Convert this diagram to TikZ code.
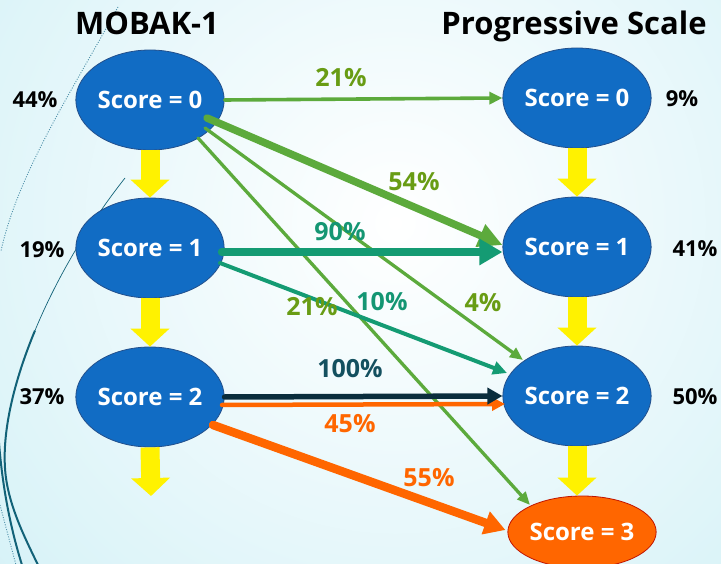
\documentclass[tikz,border=0pt]{standalone}
\usepackage{fontspec}
\setmainfont{Open Sans}
\usetikzlibrary{arrows.meta,shapes.geometric,calc}

\definecolor{bgcyan}{RGB}{208,240,246}
\definecolor{scoreblue}{RGB}{17,108,196}
\definecolor{scoreedge}{RGB}{35,80,140}
\definecolor{lgreen}{RGB}{92,170,60}
\definecolor{tgreen}{RGB}{104,156,20}
\definecolor{teal1}{RGB}{20,155,115}
\definecolor{ttext}{RGB}{20,150,115}
\definecolor{navy}{RGB}{10,45,60}
\definecolor{navytext}{RGB}{20,80,95}
\definecolor{orng}{RGB}{255,102,0}
\definecolor{orngedge}{RGB}{192,20,0}
\definecolor{decor}{RGB}{18,98,120}
\definecolor{decordot}{RGB}{80,145,170}

\begin{document}
\begin{tikzpicture}[x=1pt,y=1pt,
  scorebox/.style={ellipse, draw=scoreedge, line width=0.8pt, fill=scoreblue,
    text=white, minimum width=148pt, minimum height=100pt, inner sep=0pt,
    font=\fontsize{24}{28}\selectfont\bfseries},
  topscore/.style={scorebox, fill=orng, draw=orngedge, minimum height=72pt},
  pct/.style={anchor=base, font=\fontsize{22}{26}\selectfont\bfseries},
  lbl/.style={anchor=base, font=\fontsize{25}{30}\selectfont\bfseries},
  heading/.style={anchor=base, font=\fontsize{31}{36}\selectfont\bfseries},
  yarrow/.style={draw=yellow, line width=19pt, -{Triangle[length=18pt,width=38pt]}},
  conn/.style={line cap=round},
]
\useasboundingbox (0,0) rectangle (721,563);

% background
\begin{scope}
  \clip (0,0) rectangle (721,563);
  \fill[bgcyan] (0,0) rectangle (721,563);
  \shade[inner color=white, outer color=bgcyan] (395,340) circle (620);
\end{scope}

% decorative swooshes on the left
\begin{scope}
  \clip (0,0) rectangle (721,563);
  \draw[decor, line width=0.7pt] (125,385) .. controls (87.5,337.5) and (56.25,283.75) .. (35,232.5);
  \draw[decor, line width=2pt] (35,232.5) .. controls (13.75,181.25) and (2.5,132.5) .. (5,95)
        .. controls (7,60) and (25,25) .. (38,-2);
  \draw[decor, line width=2pt] (-1,120) .. controls (3,70) and (12,30) .. (22,-2);
  \draw[decordot, line width=0.9pt, dash pattern=on 1pt off 1.5pt] (0,58) -- (16,-2);
  \draw[decordot, line width=0.9pt, dash pattern=on 1pt off 1.5pt]
        (118,556) .. controls (72,472) and (18,390) .. (1,312);
\end{scope}

% score nodes
\node[scorebox] (l0) at (150,463) {Score = 0};
\node[scorebox] (l1) at (150,315) {Score = 1};
\node[scorebox] (l2) at (150,166) {Score = 2};
\node[scorebox] (r0) at (577,465) {Score = 0};
\node[scorebox] (r1) at (577,316) {Score = 1};
\node[scorebox] (r2) at (577,167) {Score = 2};
\node[topscore] (r3) at (582,31) {Score = 3};
\coordinate (lend) at (151,67);
\coordinate (rend) at (r2.south |- r3.north);

% vertical progression arrows
\draw[yarrow] (l0.south) -- (l1.north);
\draw[yarrow] (l1.south) -- (l2.north);
\draw[yarrow] (l2.south) -- (lend);
\draw[yarrow] (r0.south) -- (r1.north);
\draw[yarrow] (r1.south) -- (r2.north);
\draw[yarrow] (r2.south) -- (rend);

% transitions from score 0
\draw[conn, lgreen, line width=3.6pt, -{Triangle[length=13pt,width=12pt]}] (l0.east) -- (r0.west);
\draw[conn, lgreen, line width=3.3pt, -{Triangle[length=13pt,width=11pt]}] ($(l0)+(48,-38)$) -- ($(r3)+(-52,27)$);
\draw[conn, lgreen, line width=3.3pt, -{Triangle[length=13pt,width=11pt]}] ($(l0)+(55,-28)$) -- ($(r2)+(-54,36)$);
\draw[conn, lgreen, line width=7.5pt, -{Triangle[length=24pt,width=23pt]}] ($(l0)+(57,-18)$) -- ($(r1.west)+(0,2)$);

% transitions from score 1
\draw[conn, teal1, line width=4pt, -{Triangle[length=14pt,width=13pt]}] ($(l1)+(70,-15)$) -- ($(r2)+(-70,23)$);
\draw[conn, teal1, line width=7.5pt, -{Triangle[length=23pt,width=25pt]}] ($(l1.east)+(-3,-4)$) -- ($(r1.west)+(0,-5)$);

% transitions from score 2
\draw[conn, orng, line width=8.5pt, -{Triangle[length=21pt,width=23pt]}] ($(l2)+(63,-28)$) -- ($(r3.west)+(-2,2)$);
\draw[conn, orng, line width=4.5pt, -{Triangle[length=13pt,width=13pt]}] ($(l2)+(72,-8)$) -- ($(r2)+(-72,-8)$);
\draw[conn, navy, line width=5.5pt, -{Triangle[length=15pt,width=16pt]}] (l2.east) -- (r2.west);

% headings
\node[heading] (h1) at (147,528) {MOBAK-1};
\node[heading] (h2) at (574,528) {Progressive Scale};

% distribution shares
\node[pct] (p44) at (35,455) {44\%};
\node[pct] (p19) at (42,305) {19\%};
\node[pct] (p37) at (42,158) {37\%};
\node[pct] (p9)  at (682,456) {9\%};
\node[pct] (p41) at (695,306) {41\%};
\node[pct] (p50) at (695,158) {50\%};

% transition labels
\node[lbl, text=tgreen] (t21a) at (341,476) {21\%};
\node[lbl, text=tgreen] (t54) at (414,372) {54\%};
\node[lbl, text=ttext] (t90) at (340,322) {90\%};
\node[lbl, text=tgreen] (t21b) at (312,247) {21\%};
\node[lbl, text=ttext] (t10) at (382,252) {10\%};
\node[lbl, text=tgreen] (t4) at (483,251) {4\%};
\node[lbl, text=navytext] (t100) at (350,185) {100\%};
\node[lbl, text=orng] (t45) at (350,130) {45\%};
\node[lbl, text=orng] (t55) at (429,76) {55\%};
\end{tikzpicture}
\end{document}
